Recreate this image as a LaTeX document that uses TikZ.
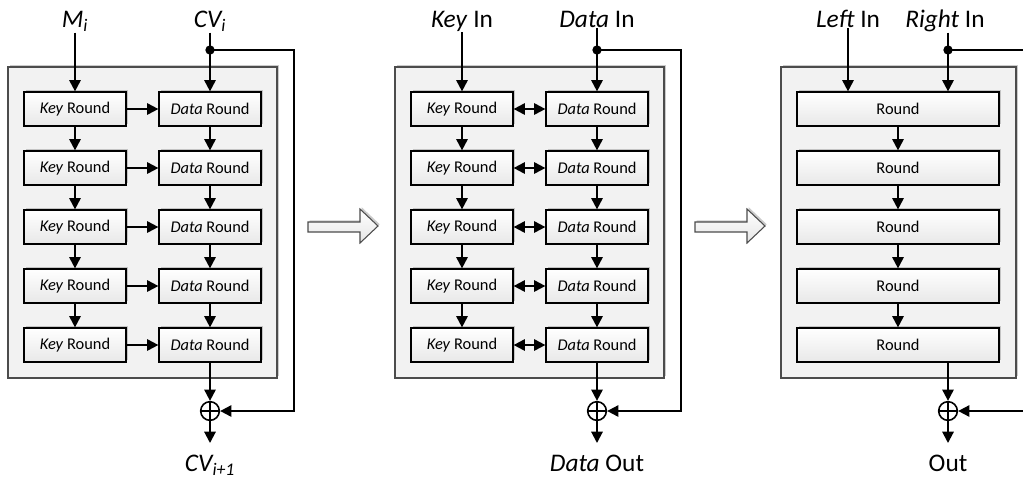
\documentclass[tikz,border=0pt]{standalone}
\usepackage{fontspec}
\setmainfont{Carlito}
\usepackage{tikz}
\usetikzlibrary{arrows.meta,shadows}

\tikzset{
  shade box/.style={drop shadow={shadow xshift=1.3pt,shadow yshift=1.3pt,fill=black!45,opacity=0.45}},
  frame/.style={draw=black!70, line width=0.9pt, fill=black!5, shade box},
  round/.style={draw, line width=0.9pt, top color=white, bottom color=black!9, shade box,
    minimum width=76.5pt, minimum height=25.5pt, inner sep=0pt, font=\fontsize{12.3}{14}\selectfont},
  wide round/.style={round, minimum width=151.5pt},
  lbl/.style={inner sep=0.75pt, anchor=base, font=\fontsize{19}{22}\selectfont},
  flow/.style={line width=1.5pt, -{Triangle[length=8.5pt,width=8.5pt]}},
  both flow/.style={line width=1.5pt, {Triangle[length=8.5pt,width=8.5pt]}-{Triangle[length=8.5pt,width=8.5pt]}},
  wire/.style={line width=1.5pt},
  junction/.style={circle, fill, inner sep=0pt, minimum size=7pt},
  xor/.style={circle, draw, line width=1.2pt, minimum size=14pt, inner sep=0pt,
    path picture={\draw[line width=1.2pt] (path picture bounding box.north) -- (path picture bounding box.south)
      (path picture bounding box.west) -- (path picture bounding box.east);}},
  hollow/.style={draw=black!70, line width=0.8pt, top color=white, bottom color=black!10, shade box},
}

\begin{document}
\begin{tikzpicture}[x=0.75pt,y=0.75pt,yscale=-1,xscale=1]
\useasboundingbox (0,0) rectangle (1023,479);

%Shape: Frames
\draw [frame] (8,67) rectangle (277,378);
\draw [frame] (395,67) rectangle (664,378);
\draw [frame] (781,67) rectangle (1016,378);

%Shape: Hollow Arrows
\draw [hollow] (308,222) -- (360,222) -- (360,209) -- (378,226) -- (360,243) -- (360,232) -- (308,232) -- cycle ;
\draw [hollow] (695,222) -- (747,222) -- (747,209) -- (765,226) -- (747,243) -- (747,232) -- (695,232) -- cycle ;

% Rounds, first panel
\node [round] (ka1) at (75,109) {\textit{Key} Round};
\node [round] (ka2) at (75,168) {\textit{Key} Round};
\node [round] (ka3) at (75,227) {\textit{Key} Round};
\node [round] (ka4) at (75,286) {\textit{Key} Round};
\node [round] (ka5) at (75,345) {\textit{Key} Round};
\node [round] (da1) at (210,109) {\textit{Data} Round};
\node [round] (da2) at (210,168) {\textit{Data} Round};
\node [round] (da3) at (210,227) {\textit{Data} Round};
\node [round] (da4) at (210,286) {\textit{Data} Round};
\node [round] (da5) at (210,345) {\textit{Data} Round};

% Rounds, second panel
\node [round] (kb1) at (462,109) {\textit{Key} Round};
\node [round] (kb2) at (462,168) {\textit{Key} Round};
\node [round] (kb3) at (462,227) {\textit{Key} Round};
\node [round] (kb4) at (462,286) {\textit{Key} Round};
\node [round] (kb5) at (462,345) {\textit{Key} Round};
\node [round] (db1) at (597,109) {\textit{Data} Round};
\node [round] (db2) at (597,168) {\textit{Data} Round};
\node [round] (db3) at (597,227) {\textit{Data} Round};
\node [round] (db4) at (597,286) {\textit{Data} Round};
\node [round] (db5) at (597,345) {\textit{Data} Round};

% Rounds, third panel
\node [wide round] (rc1) at (898,109) {Round};
\node [wide round] (rc2) at (898,168) {Round};
\node [wide round] (rc3) at (898,227) {Round};
\node [wide round] (rc4) at (898,286) {Round};
\node [wide round] (rc5) at (898,345) {Round};

% Text Node
\node [lbl] (lblMa) at (75,27) {\textit{M\textsubscript{i}}};
\node [lbl] (lblCVa) at (210,27) {\textit{CV\textsubscript{i}}};
\node [lbl] (lblCVo) at (210,471) {\textit{CV\textsubscript{i+1}}};
\node [lbl] (lblKeyIn) at (462,27) {\textit{Key} In};
\node [lbl] (lblDataIn) at (597,27) {\textit{Data} In};
\node [lbl] (lblDataOut) at (597,471) {\textit{Data} Out};
\node [lbl] (lblLeftIn) at (848,27) {\textit{Left} In};
\node [lbl] (lblRightIn) at (945,27) {\textit{Right} In};
\node [lbl] (lblOut) at (948,471) {Out};

% Junctions and XORs
\node [junction] (dotA) at (210,50) {};
\node [junction] (dotB) at (597,50) {};
\node [junction] (dotC) at (948,50) {};
\node [xor] (xorA) at (210,411) {};
\node [xor] (xorB) at (597,411) {};
\node [xor] (xorC) at (948,411) {};
\coordinate (fbA) at (294,411);
\coordinate (fbB) at (681,411);
\coordinate (fbC) at (1035,411);
\coordinate (outA) at (210,443);
\coordinate (outB) at (597,443);
\coordinate (outC) at (948,443);

%Straight Lines: first panel
\draw [flow] (lblMa.south) -- (ka1.north);
\draw [wire] (lblCVa.south) -- (dotA.center);
\draw [flow] (dotA.center) -- (da1.north);
\draw [flow] (ka1) -- (ka2);
\draw [flow] (ka2) -- (ka3);
\draw [flow] (ka3) -- (ka4);
\draw [flow] (ka4) -- (ka5);
\draw [flow] (da1) -- (da2);
\draw [flow] (da2) -- (da3);
\draw [flow] (da3) -- (da4);
\draw [flow] (da4) -- (da5);
\draw [flow] (ka1) -- (da1);
\draw [flow] (ka2) -- (da2);
\draw [flow] (ka3) -- (da3);
\draw [flow] (ka4) -- (da4);
\draw [flow] (ka5) -- (da5);
\draw [flow] (da5) -- (xorA);
\draw [flow] (dotA.center) -| (fbA) -- (xorA);
\draw [flow] (xorA) -- (outA);

%Straight Lines: second panel
\draw [flow] (lblKeyIn.south) -- (kb1.north);
\draw [wire] (lblDataIn.south) -- (dotB.center);
\draw [flow] (dotB.center) -- (db1.north);
\draw [flow] (kb1) -- (kb2);
\draw [flow] (kb2) -- (kb3);
\draw [flow] (kb3) -- (kb4);
\draw [flow] (kb4) -- (kb5);
\draw [flow] (db1) -- (db2);
\draw [flow] (db2) -- (db3);
\draw [flow] (db3) -- (db4);
\draw [flow] (db4) -- (db5);
\draw [both flow] (kb1) -- (db1);
\draw [both flow] (kb2) -- (db2);
\draw [both flow] (kb3) -- (db3);
\draw [both flow] (kb4) -- (db4);
\draw [both flow] (kb5) -- (db5);
\draw [flow] (db5) -- (xorB);
\draw [flow] (dotB.center) -| (fbB) -- (xorB);
\draw [flow] (xorB) -- (outB);

%Straight Lines: third panel
\draw [flow] (lblLeftIn.south) -- (lblLeftIn.south |- rc1.north);
\draw [wire] (lblRightIn.south -| dotC) -- (dotC.center);
\draw [flow] (dotC.center) -- (dotC |- rc1.north);
\draw [flow] (rc1) -- (rc2);
\draw [flow] (rc2) -- (rc3);
\draw [flow] (rc3) -- (rc4);
\draw [flow] (rc4) -- (rc5);
\draw [flow] (xorC |- rc5.south) -- (xorC);
\draw [flow] (dotC.center) -| (fbC) -- (xorC);
\draw [flow] (xorC) -- (outC);

\end{tikzpicture}
\end{document}
